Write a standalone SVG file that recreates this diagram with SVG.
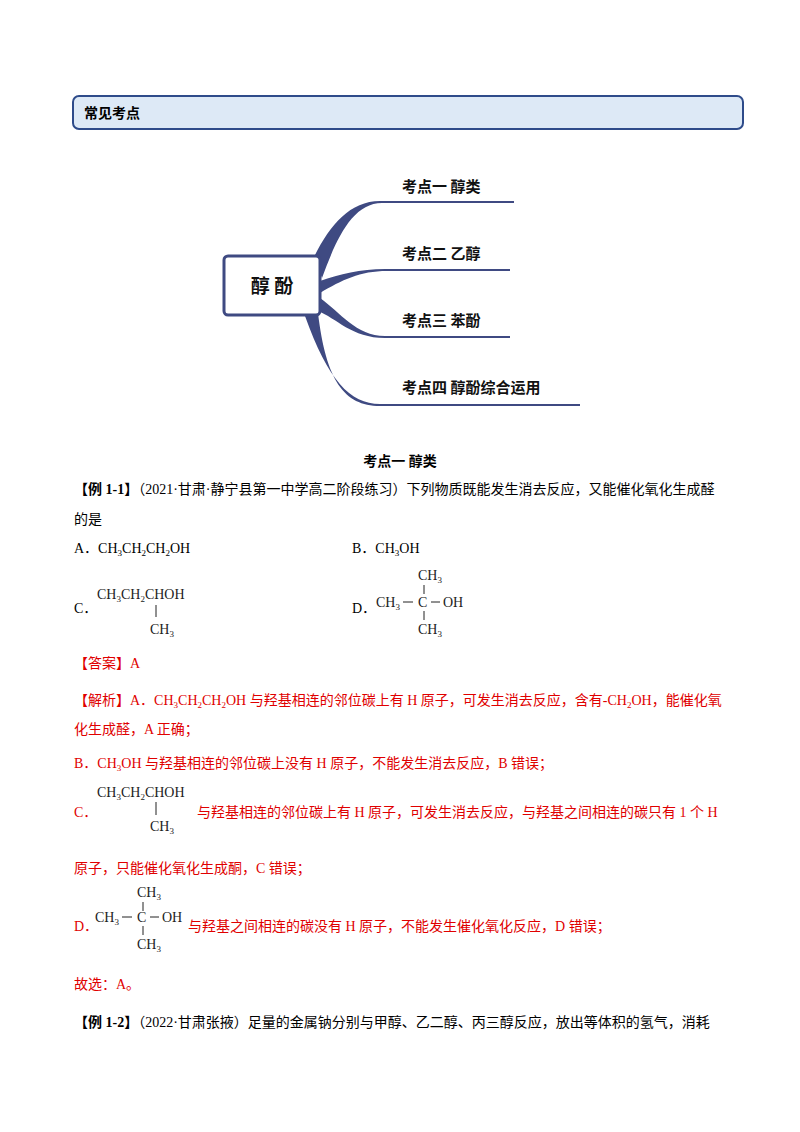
<svg xmlns="http://www.w3.org/2000/svg" width="800" height="1132" viewBox="0 0 800 1132">
<style>
.t{font-family:"Liberation Serif","Noto Sans CJK SC",serif;font-size:14px;fill:#000}
.r{fill:#e00000}
.b{font-weight:bold}
.s{font-family:"Noto Sans CJK SC",sans-serif;font-weight:bold;font-size:15px;fill:#111}
.f{font-family:"Liberation Serif",serif;font-size:14px;fill:#222}
.br{fill:#3f4a82}
.ln{stroke:#222;stroke-width:1}
</style>
<rect width="800" height="1132" fill="#fff"/>
<g id="header">
<rect x="73" y="96" width="670" height="33" rx="6" fill="#dde9f6" stroke="#2e4b8a" stroke-width="2"/>
<text x="84" y="118" class="t b">常见考点</text>
</g>
<g id="connectors">
<path class="br" d="M314,257 C330,225 350,201 380,201 L514,201 L514,203 L382,203 C352,203 336,240 322,278 Z"/>
<path class="br" d="M320,281 C340,274 360,269 385,269 L510,269 L510,271 L387,271 C360,271 342,280 320,293 Z"/>
<path class="br" d="M320,298 C340,312 356,336 385,336 L510,336 L510,338 L385,338 C352,338 336,318 318,311 Z"/>
<path class="br" d="M305,316 C328,380 350,404 380,404 L580,404 L580,406 L380,406 C344,406 326,380 318,313 Z"/>
</g>
<g id="root">
<rect x="224" y="256" width="96" height="59" rx="4" fill="#fff" stroke="#3f4a82" stroke-width="3"/>
<text x="272" y="293" text-anchor="middle" class="s" style="font-size:19px">醇 酚</text>
</g>
<g id="n1"><text x="402" y="192" class="s">考点一 醇类</text></g>
<g id="n2"><text x="402" y="259" class="s">考点二 乙醇</text></g>
<g id="n3"><text x="402" y="326" class="s">考点三 苯酚</text></g>
<g id="n4"><text x="402" y="393" class="s">考点四 醇酚综合运用</text></g>

<text x="400" y="466" text-anchor="middle" class="t b">考点一 醇类</text>
<text x="74" y="494" class="t"><tspan class="b">【例 1-1】</tspan>（2021·甘肃·静宁县第一中学高二阶段练习）下列物质既能发生消去反应，又能催化氧化生成醛</text>
<text x="74" y="524" class="t">的是</text>
<text x="74" y="553" class="t">A．CH<tspan font-size="9" dy="3">3</tspan><tspan dy="-3">CH</tspan><tspan font-size="9" dy="3">2</tspan><tspan dy="-3">CH</tspan><tspan font-size="9" dy="3">2</tspan><tspan dy="-3">OH</tspan></text>
<text x="352" y="553" class="t">B．CH<tspan font-size="9" dy="3">3</tspan><tspan dy="-3">OH</tspan></text>

<text x="74" y="613" class="t">C．</text>
<text x="97" y="599" class="f">CH<tspan font-size="9" dy="3">3</tspan><tspan dy="-3">CH</tspan><tspan font-size="9" dy="3">2</tspan><tspan dy="-3">CHOH</tspan></text>
<line x1="156" y1="605" x2="156" y2="617" class="ln"/>
<text x="150" y="634" class="f">CH<tspan font-size="9" dy="3">3</tspan></text>

<text x="352" y="613" class="t">D．</text>
<text x="418" y="580" class="f">CH<tspan font-size="9" dy="3">3</tspan></text>
<line x1="424" y1="585" x2="424" y2="594" class="ln"/>
<text x="376" y="607" class="f">CH<tspan font-size="9" dy="3">3</tspan></text>
<line x1="403" y1="602" x2="413" y2="602" class="ln"/>
<text x="418" y="607" class="f">C</text>
<line x1="431" y1="602" x2="440" y2="602" class="ln"/>
<text x="443" y="607" class="f">OH</text>
<line x1="424" y1="611" x2="424" y2="620" class="ln"/>
<text x="418" y="634" class="f">CH<tspan font-size="9" dy="3">3</tspan></text>

<text x="74" y="668" class="t r">【答案】A</text>
<text x="74" y="705" class="t r">【解析】A．CH<tspan font-size="9" dy="3">3</tspan><tspan dy="-3">CH</tspan><tspan font-size="9" dy="3">2</tspan><tspan dy="-3">CH</tspan><tspan font-size="9" dy="3">2</tspan><tspan dy="-3">OH 与羟基相连的邻位碳上有 H 原子，可发生消去反应，含有-CH</tspan><tspan font-size="9" dy="3">2</tspan><tspan dy="-3">OH，能催化氧</tspan></text>
<text x="74" y="734" class="t r">化生成醛，A 正确；</text>
<text x="74" y="768" class="t r">B．CH<tspan font-size="9" dy="3">3</tspan><tspan dy="-3">OH 与羟基相连的邻位碳上没有 H 原子，不能发生消去反应，B 错误；</tspan></text>

<text x="74" y="817" class="t r">C．</text>
<text x="97" y="797" class="f">CH<tspan font-size="9" dy="3">3</tspan><tspan dy="-3">CH</tspan><tspan font-size="9" dy="3">2</tspan><tspan dy="-3">CHOH</tspan></text>
<line x1="156" y1="802" x2="156" y2="815" class="ln"/>
<text x="150" y="831" class="f">CH<tspan font-size="9" dy="3">3</tspan></text>
<text x="197" y="817" class="t r">与羟基相连的邻位碳上有 H 原子，可发生消去反应，与羟基之间相连的碳只有 1 个 H</text>
<text x="74" y="873" class="t r">原子，只能催化氧化生成酮，C 错误；</text>

<text x="74" y="931" class="t r">D．</text>
<text x="137" y="897" class="f">CH<tspan font-size="9" dy="3">3</tspan></text>
<line x1="143" y1="902" x2="143" y2="911" class="ln"/>
<text x="95" y="922" class="f">CH<tspan font-size="9" dy="3">3</tspan></text>
<line x1="122" y1="917" x2="132" y2="917" class="ln"/>
<text x="137" y="922" class="f">C</text>
<line x1="150" y1="917" x2="159" y2="917" class="ln"/>
<text x="162" y="922" class="f">OH</text>
<line x1="143" y1="926" x2="143" y2="935" class="ln"/>
<text x="137" y="949" class="f">CH<tspan font-size="9" dy="3">3</tspan></text>
<text x="188" y="931" class="t r">与羟基之间相连的碳没有 H 原子，不能发生催化氧化反应，D 错误；</text>

<text x="74" y="989" class="t r">故选：A。</text>
<text x="74" y="1027" class="t"><tspan class="b">【例 1-2】</tspan>（2022·甘肃张掖）足量的金属钠分别与甲醇、乙二醇、丙三醇反应，放出等体积的氢气，消耗</text>
</svg>
